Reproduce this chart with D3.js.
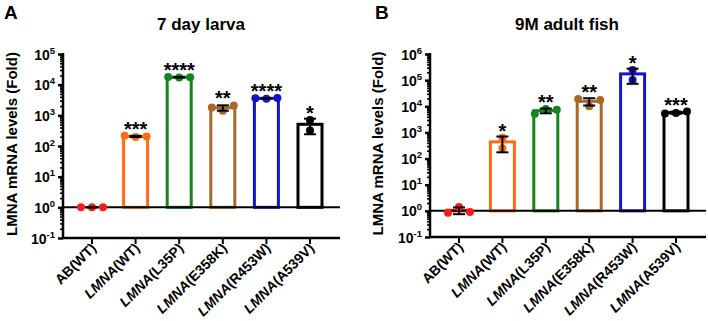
<!DOCTYPE html>
<html>
<head>
<meta charset="utf-8">
<script src="https://cdn.jsdelivr.net/npm/d3@7"></script>
<style>
  html, body { margin: 0; padding: 0; background: #fff; }
  svg { display: block; font-family: "Liberation Sans", Arial, sans-serif; font-weight: bold; }
</style>
</head>
<body>
<svg id="chart" width="708" height="321"></svg>
<script>
// Groups shown on both panels
const categories = ["AB(WT)", "LMNA(WT)", "LMNA(L35P)", "LMNA(E358K)", "LMNA(R453W)", "LMNA(A539V)"];
const groupColors = ["#ff1a1a", "#ff6a13", "#12861b", "#a5692c", "#1313c8", "#000000"];

// 7 day larva: replicate fold changes per group
const larvaValues = [
  [1, 1, 1],
  [195, 215, 205],
  [17000, 17800, 17600],
  [1400, 1800, 2100],
  [3500, 3600, 3650],
  [700, 320]
];
const larvaStars = ["", "***", "****", "**", "****", "*"];
const larvaExponents = [-1, 0, 1, 2, 3, 4, 5];

// 9 month adult fish: replicate fold changes per group
const adultValues = [
  [1.4, 0.85, 0.9],
  [620, 250],
  [7800, 5200, 7400],
  [10000, 19000, 17500],
  [245000, 102000],
  [5500, 5300, 6300]
];
const adultStars = ["", "*", "**", "**", "*", "***"];
const adultExponents = [-1, 0, 1, 2, 3, 4, 5, 6];

const svg = d3.select("#chart");

function mean(a) { return d3.mean(a); }
function sd(a) { return a.length > 1 ? d3.deviation(a) : 0; }

// simple column scatter: keep a point centred unless it overlaps one already placed
function scatterOffsets(ys, step, minDist) {
  const placed = [];
  return ys.map(py => {
    for (const slot of [0, -1, 1, -2, 2]) {
      const px = slot * step;
      if (placed.every(p => Math.hypot(p[0] - px, p[1] - py) >= minDist)) {
        placed.push([px, py]);
        return px;
      }
    }
    placed.push([0, py]);
    return 0;
  });
}

function drawPanel(opts) {
  const g = svg.append("g");
  const exps = opts.exponents;
  const y = d3.scaleLog()
    .domain([Math.pow(10, exps[0]), Math.pow(10, exps[exps.length - 1])])
    .range([opts.bottom, opts.top]);
  const x = d3.scalePoint().domain(categories).range([opts.x0, opts.x1]);

  // panel letter and title
  g.append("text").attr("x", opts.letterX).attr("y", 19)
    .attr("font-size", 19).text(opts.letter);
  g.append("text").attr("x", opts.titleX).attr("y", 30)
    .attr("font-size", 17).attr("text-anchor", "middle").text(opts.title);

  // y axis label
  g.append("text")
    .attr("transform", `translate(${opts.labelX},${(opts.top + opts.bottom) / 2 - 2}) rotate(-90)`)
    .attr("text-anchor", "middle").attr("font-size", 15)
    .text("LMNA mRNA levels (Fold)");

  // minor + major log ticks
  const minor = [];
  for (let e = exps[0]; e < exps[exps.length - 1]; e++) {
    for (let m = 2; m <= 9; m++) minor.push(m * Math.pow(10, e));
  }
  const majors = exps.map(e => Math.pow(10, e));
  g.append("g").attr("transform", `translate(${opts.axisLeft},0)`)
    .call(d3.axisLeft(y).tickValues(minor).tickSize(3).tickFormat(""))
    .call(s => s.select(".domain").remove())
    .call(s => s.selectAll("line").attr("stroke", "#000").attr("stroke-width", 1.6));
  const yAx = g.append("g").attr("transform", `translate(${opts.axisLeft},0)`)
    .call(d3.axisLeft(y).tickValues(majors).tickSize(5).tickPadding(4).tickFormat(""));
  yAx.select(".domain").remove();
  yAx.selectAll("line").attr("stroke", "#000").attr("stroke-width", 2.5);
  yAx.selectAll(".tick").each(function(d, i) {
    const t = d3.select(this).append("text")
      .attr("x", -8).attr("y", 5).attr("text-anchor", "end")
      .attr("fill", "#000").attr("font-size", 14).attr("font-family", "Liberation Sans, Arial, sans-serif").attr("font-weight", "bold");
    t.append("tspan").text("10");
    t.append("tspan").attr("dy", -6).attr("font-size", 9.5).text(exps[i]);
  });
  g.append("line").attr("x1", opts.axisLeft).attr("x2", opts.axisLeft)
    .attr("y1", opts.top - 1).attr("y2", opts.bottom + 1)
    .attr("stroke", "#000").attr("stroke-width", 2.5);

  // bottom axis with category ticks
  g.append("line").attr("x1", opts.axisLeft).attr("x2", opts.axisRight)
    .attr("y1", opts.bottom).attr("y2", opts.bottom)
    .attr("stroke", "#000").attr("stroke-width", 2.5);
  categories.forEach(c => {
    g.append("line").attr("x1", x(c)).attr("x2", x(c))
      .attr("y1", opts.bottom).attr("y2", opts.bottom + 6)
      .attr("stroke", "#000").attr("stroke-width", 2);
    const t = g.append("text")
      .attr("transform", `translate(${x(c) + 5},${opts.bottom + 11}) rotate(-45)`)
      .attr("text-anchor", "end").attr("font-size", 14);
    if (c.startsWith("LMNA")) {
      t.append("tspan").attr("font-style", "italic").text("LMNA");
      t.append("tspan").text(c.slice(4));
    } else {
      t.text(c);
    }
  });

  const baseY = y(1);
  const barW = 24;

  // bars rising from the 10^0 baseline
  opts.values.forEach((vals, i) => {
    const m = mean(vals);
    const cx = x(categories[i]);
    if (m > 1.001) {
      g.append("rect").attr("x", cx - barW / 2).attr("y", y(m))
        .attr("width", barW).attr("height", baseY - y(m))
        .attr("fill", "#fff").attr("stroke", groupColors[i]).attr("stroke-width", 3);
    }
  });

  // baseline at 10^0
  g.append("line").attr("x1", opts.axisLeft).attr("x2", opts.axisRight)
    .attr("y1", baseY).attr("y2", baseY)
    .attr("stroke", "#000").attr("stroke-width", 2);

  // replicate points
  opts.values.forEach((vals, i) => {
    const cx = x(categories[i]);
    const ys = vals.map(v => y(v));
    const offs = scatterOffsets(ys, 11, 8);
    vals.forEach((v, j) => {
      g.append("circle").attr("cx", cx + offs[j]).attr("cy", ys[j]).attr("r", 4)
        .attr("fill", groupColors[i]);
    });
  });

  // SD error bars and significance marks
  opts.values.forEach((vals, i) => {
    const m = mean(vals), s = sd(vals);
    const cx = x(categories[i]);
    const hi = m + s, lo = Math.max(m - s, 0.11);
    const eg = g.append("g").attr("stroke", "#000").attr("stroke-width", 2);
    eg.append("line").attr("x1", cx).attr("x2", cx).attr("y1", y(hi)).attr("y2", y(lo));
    eg.append("line").attr("x1", cx - 6).attr("x2", cx + 6).attr("y1", y(hi)).attr("y2", y(hi));
    eg.append("line").attr("x1", cx - 6).attr("x2", cx + 6).attr("y1", y(lo)).attr("y2", y(lo));
    if (opts.stars[i]) {
      const topY = Math.min(y(hi), y(d3.max(vals)) - 4);
      g.append("text").attr("x", cx).attr("y", topY + 4)
        .attr("text-anchor", "middle").attr("font-size", 20).text(opts.stars[i]);
    }
  });
}

drawPanel({
  letter: "A", letterX: 4, title: "7 day larva", titleX: 201, labelX: 17,
  values: larvaValues, stars: larvaStars, exponents: larvaExponents,
  top: 54, bottom: 238, axisLeft: 63, axisRight: 340, x0: 92, x1: 310
});

drawPanel({
  letter: "B", letterX: 375, title: "9M adult fish", titleX: 567, labelX: 383,
  values: adultValues, stars: adultStars, exponents: adultExponents,
  top: 54, bottom: 237, axisLeft: 430, axisRight: 706, x0: 459, x1: 676
});
</script>
</body>
</html>
